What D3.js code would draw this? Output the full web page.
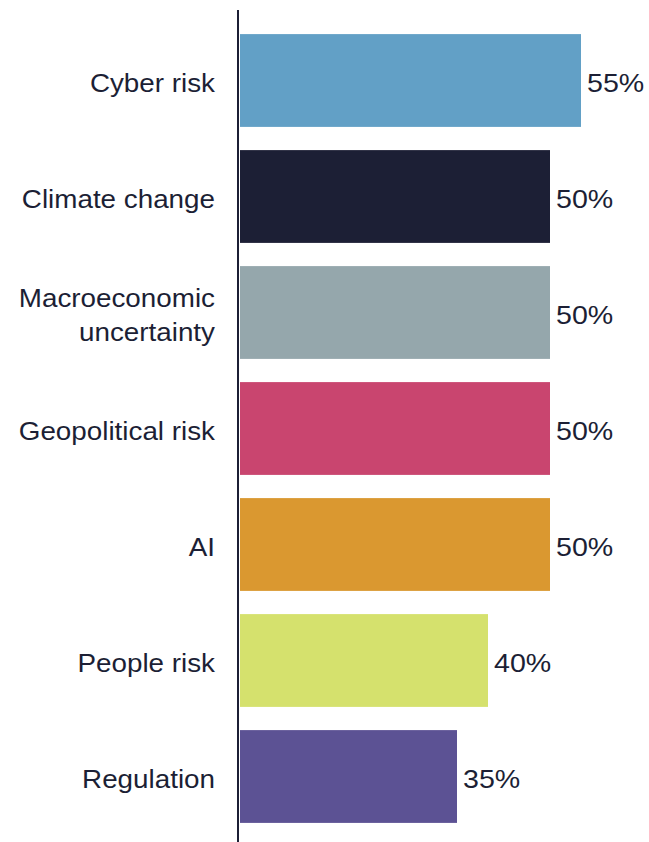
<!DOCTYPE html>
<html>
<head>
<meta charset="utf-8">
<script src="https://cdn.jsdelivr.net/npm/d3@7"></script>
<style>
  body { margin: 0; background: #fff; }
  text { font-family: "Liberation Sans", Arial, sans-serif; fill: #1c1f35; }
</style>
</head>
<body>
<div id="chart"></div>
<script>
// risk categories, top to bottom
const categories = ['Cyber risk', 'Climate change', 'Macroeconomic uncertainty', 'Geopolitical risk', 'AI', 'People risk', 'Regulation'];
const values = [55, 50, 50, 50, 50, 40, 35];
const colors = ['#62a0c6', '#1c1f35', '#95a7ac', '#c9456f', '#da9830', '#d5e16d', '#5c5294'];
// labels split over lines
const labelLines = [['Cyber risk'], ['Climate change'], ['Macroeconomic', 'uncertainty'], ['Geopolitical risk'], ['AI'], ['People risk'], ['Regulation']];

const width = 649, height = 842;
const axisX = 238;
const stretch = 1.07; // text is set a little wide

const svg = d3.select('#chart').append('svg')
  .attr('width', width)
  .attr('height', height);

const y = d3.scaleBand()
  .domain(categories)
  .range([22.5, 834.5])
  .paddingInner(0.2)
  .paddingOuter(0.1);

const x = d3.scaleLinear()
  .domain([0, 55])
  .range([240, 581]);

svg.selectAll('rect.bar')
  .data(categories)
  .enter()
  .append('rect')
  .attr('class', 'bar')
  .attr('x', x(0))
  .attr('y', d => y(d))
  .attr('width', (d, i) => x(values[i]) - x(0))
  .attr('height', y.bandwidth())
  .attr('fill', (d, i) => colors[i]);

// value labels
svg.selectAll('text.value')
  .data(categories)
  .enter()
  .append('text')
  .attr('class', 'value')
  .attr('transform', (d, i) => `translate(${x(values[i]) + 6},${y(d) + y.bandwidth() / 2 + 2}) scale(${stretch + 0.03},1)`)
  .attr('dy', '0.35em')
  .style('font-size', '26px')
  .text((d, i) => values[i] + '%');

// category labels
const lineH = 34;
svg.selectAll('text.cat')
  .data(categories)
  .enter()
  .append('text')
  .attr('class', 'cat')
  .attr('text-anchor', 'end')
  .style('font-size', '26px')
  .each(function(d, i) {
    const lines = labelLines[i];
    const cy = y(d) + y.bandwidth() / 2 + 2;
    const top = cy - (lines.length - 1) * lineH / 2;
    d3.select(this)
      .attr('transform', `translate(215,${top}) scale(${stretch},1)`)
      .selectAll('tspan')
      .data(lines)
      .enter()
      .append('tspan')
      .attr('x', 0)
      .attr('y', (l, j) => j * lineH)
      .attr('dy', '0.35em')
      .text(l => l);
  });

// vertical axis line
svg.append('line')
  .attr('x1', axisX).attr('x2', axisX)
  .attr('y1', 10).attr('y2', height)
  .attr('stroke', '#1c1f35')
  .attr('stroke-width', 2);
</script>
</body>
</html>
